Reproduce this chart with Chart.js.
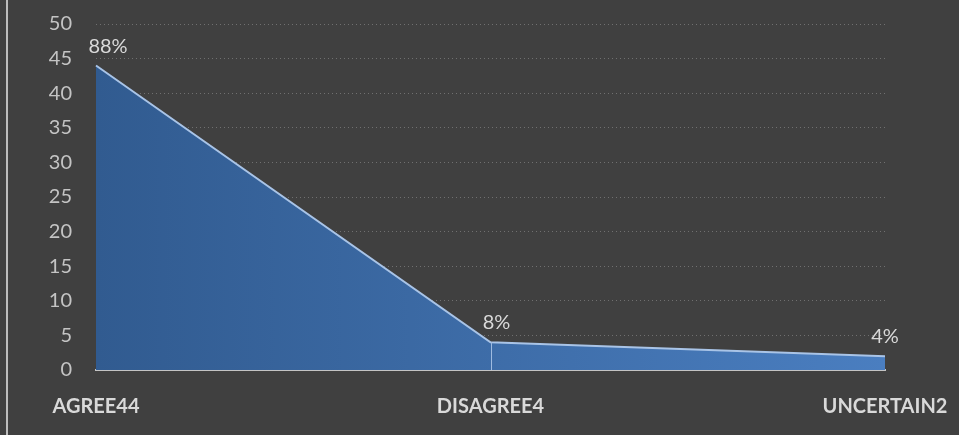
<!DOCTYPE html>
<html>
<head>
<meta charset="utf-8">
<script src="https://cdn.jsdelivr.net/npm/chart.js@4/dist/chart.umd.min.js"></script>
<style>
    html, body { margin: 0; padding: 0; background: #404040; }
    #wrap { position: relative; width: 959px; height: 435px; }
    #edge { position: absolute; left: 6px; top: 0; width: 2px; height: 435px; background: #bdbdbd; }
</style>
</head>
<body>
<div id="wrap">
    <canvas id="grafico" width="959" height="435"></canvas>
    <div id="edge"></div>
</div>
<script>
const categorias = ['AGREE44', 'DISAGREE4', 'UNCERTAIN2'];
const valores = [44, 4, 2];
const porcentajes = ['88%', '8%', '4%'];

// etiquetas encima de cada punto + linea vertical en el punto medio
const etiquetas = {
    id: 'etiquetas',
    afterDatasetsDraw(chart) {
        const { ctx, chartArea } = chart;
        const meta = chart.getDatasetMeta(0);
        ctx.save();
        // linea de caida
        const p = meta.data[1];
        ctx.strokeStyle = '#9fbbe0';
        ctx.lineWidth = 1;
        ctx.beginPath();
        ctx.moveTo(Math.round(p.x) + 0.5, p.y);
        ctx.lineTo(Math.round(p.x) + 0.5, chartArea.bottom);
        ctx.stroke();

        ctx.font = '20px Lato';
        ctx.fillStyle = '#d9d9d9';
        ctx.textAlign = 'center';
        ctx.textBaseline = 'alphabetic';
        meta.data.forEach((pt, i) => {
            const x = Math.max(pt.x, chartArea.left + 12);
            ctx.fillText(porcentajes[i], x + (i === 1 ? 6 : 0), pt.y - 13);
        });
        ctx.restore();
    }
};

const ctx = document.getElementById('grafico').getContext('2d');
new Chart(ctx, {
    type: 'line',
    data: {
        labels: categorias,
        datasets: [{
            data: valores,
            fill: 'origin',
            tension: 0,
            pointRadius: 0,
            borderColor: '#a9c4e7',
            borderWidth: 2,
            backgroundColor: (c) => {
                const area = c.chart.chartArea;
                if (!area) return '#3d6aa5';
                const g = c.chart.ctx.createLinearGradient(area.left, 0, area.right, 0);
                g.addColorStop(0, '#315b90');
                g.addColorStop(1, '#4a7ec0');
                return g;
            }
        }]
    },
    options: {
        responsive: false,
        animation: false,
        layout: { padding: { left: 0, right: 74, top: 24, bottom: 0 } },
        plugins: { legend: { display: false }, tooltip: { enabled: false } },
        scales: {
            x: {
                offset: false,
                grid: { display: false },
                border: { display: true, color: '#c4c4c4', width: 2 },
                ticks: { color: '#d9d9d9', font: { family: 'Lato', size: 20, weight: 'bold' }, padding: 17, maxRotation: 0, autoSkip: false },
                afterFit: (s) => { s.height = 65; s.paddingLeft = 0; s.paddingRight = 0; }
            },
            y: {
                min: 0,
                max: 50,
                ticks: { stepSize: 5, color: '#c4c4c4', font: { family: 'Lato', size: 20 }, padding: 24 },
                grid: { color: '#707070', lineWidth: 1, drawTicks: false },
                border: { display: false, dash: [1, 3] },
                afterFit: (s) => { s.width = 96; s.paddingTop = 0; s.paddingBottom = 0; }
            }
        }
    },
    plugins: [etiquetas]
});
</script>
</body>
</html>
